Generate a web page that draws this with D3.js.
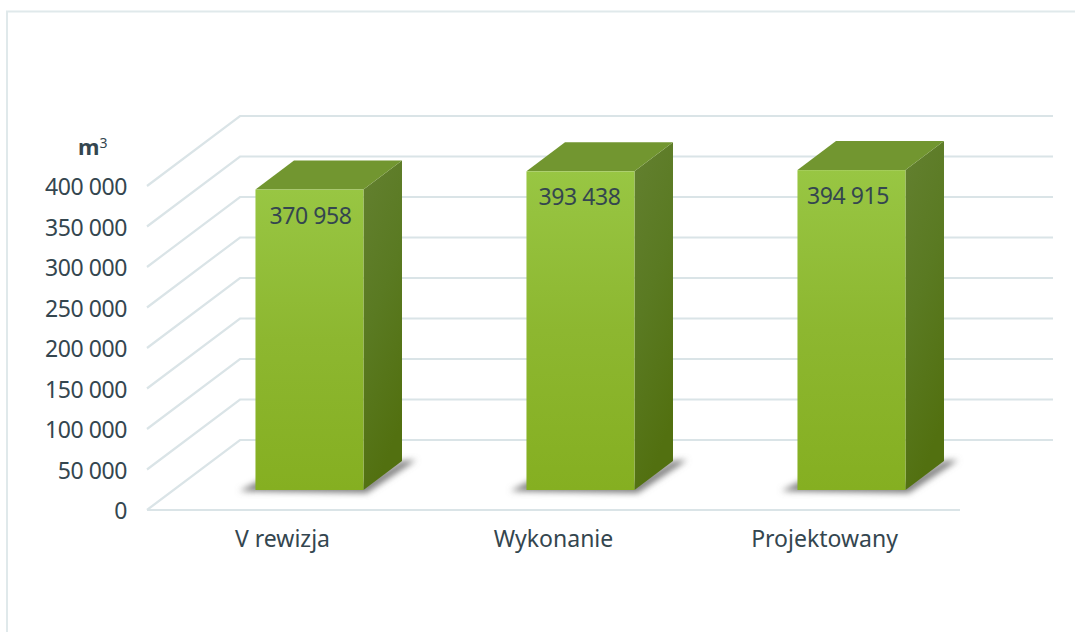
<!DOCTYPE html>
<html>
<head>
<meta charset="utf-8">
<script src="https://cdnjs.cloudflare.com/ajax/libs/d3/7.8.5/d3.min.js"></script>
<style>
  html, body { margin: 0; padding: 0; background: #fff; }
  text { font-family: "Noto Sans", sans-serif; fill: #34464f; }
</style>
</head>
<body>
<div id="chart"></div>
<script>
var categories = ["V rewizja", "Wykonanie", "Projektowany"];
var values = [370958, 393438, 394915];
var valueLabels = ["370 958", "393 438", "394 915"];
var tickValues = [0, 50000, 100000, 150000, 200000, 250000, 300000, 350000, 400000];
var tickLabels = ["0", "50 000", "100 000", "150 000", "200 000", "250 000", "300 000", "350 000", "400 000"];

var width = 1075, height = 632;

// Floor of the 3D box: front edge and how far the back wall is shifted
var front = {left: 147, right: 960, bottom: 510, top: 186};
var depth = {x: 93, y: -70};

// Bars stand part way into the floor
var barNear = 20 / 70, barFar = 49 / 70;

var svg = d3.select("#chart").append("svg")
  .attr("width", width)
  .attr("height", height)
  .style("display", "block");

var x = d3.scaleBand()
  .domain(categories)
  .range([front.left, front.right])
  .paddingInner(0.6)
  .paddingOuter(0.3);

var y = d3.scaleLinear()
  .domain([0, 400000])
  .range([front.bottom, front.top]);

var defs = svg.append("defs");

function gradient(id, stops, x2, y2) {
  var g = defs.append("linearGradient")
    .attr("id", id)
    .attr("x1", 0).attr("y1", 0)
    .attr("x2", x2).attr("y2", y2);
  stops.forEach(function(s, i) {
    g.append("stop").attr("offset", i / (stops.length - 1)).attr("stop-color", s);
  });
}
gradient("frontFill", ["#98c643", "#8db730", "#85af21"], 0, 1);
gradient("sideFill", ["#638030", "#5a7a22", "#527010"], 0.3, 1);

defs.append("filter")
    .attr("id", "blur")
    .attr("x", "-20%").attr("y", "-20%")
    .attr("width", "140%").attr("height", "140%")
  .append("feGaussianBlur")
    .attr("stdDeviation", 3);

// Frame round the chart
svg.append("path")
  .attr("d", "M7," + height + "V11.5H" + width)
  .attr("fill", "none")
  .attr("stroke", "#e0e9eb")
  .attr("stroke-width", 2);

// Gridlines: front floor line, slanted wall edge, back wall line
var grid = svg.append("g")
  .attr("fill", "none")
  .attr("stroke", "#dae4e7")
  .attr("stroke-width", 2.2);

grid.selectAll("path")
  .data(tickValues)
  .enter().append("path")
  .attr("d", function(d) {
    var p = d3.path();
    p.moveTo(front.left, y(d));
    p.lineTo(front.left + depth.x, y(d) + depth.y);
    p.lineTo(front.right + depth.x, y(d) + depth.y);
    return p.toString();
  });

grid.append("line")
  .attr("x1", front.left).attr("y1", y(0))
  .attr("x2", front.right).attr("y2", y(0));

// Y axis labels
svg.append("g").selectAll("text")
  .data(tickValues)
  .enter().append("text")
  .attr("x", 127)
  .attr("y", function(d) { return y(d) + 1; })
  .attr("dy", "0.36em")
  .attr("text-anchor", "end")
  .style("font-size", "23px")
  .style("letter-spacing", "-0.4px")
  .text(function(d, i) { return tickLabels[i]; });

// Unit label
var unit = svg.append("text")
  .attr("x", 78)
  .attr("y", 155)
  .style("font-size", "22px")
  .style("font-weight", "bold");
unit.append("tspan").text("m");
unit.append("tspan").attr("dy", -7).attr("dx", 0).style("font-size", "14px").style("font-weight", "normal").text("3");

// Category labels
svg.append("g").selectAll("text")
  .data(categories)
  .enter().append("text")
  .attr("x", function(d) { return x(d) + x.bandwidth() / 2; })
  .attr("y", 547)
  .attr("text-anchor", "middle")
  .style("font-size", "23px")
  .text(function(d) { return d; });

// Bars
var bars = svg.append("g").selectAll("g")
  .data(values)
  .enter().append("g");

function poly(pts) { return d3.line()(pts) + "Z"; }

function corners(d, i) {
  var x0 = x(categories[i]) + barNear * depth.x + 0.6,
      x1 = x0 + x.bandwidth() - 0.4,
      base = y(0) + barNear * depth.y,
      top = base - (y(0) - y(d)),
      dx = (barFar - barNear) * depth.x,
      dy = (barFar - barNear) * depth.y;
  return {x0: x0, x1: x1, base: base, top: top, dx: dx, dy: dy};
}

// Shadow lying on the floor
bars.append("path")
  .attr("fill", "#7c7c7c")
  .attr("filter", "url(#blur)")
  .attr("d", function(d, i) {
    var c = corners(d, i);
    return poly([[c.x0 - 16, c.base + 1], [c.x0 + 4, c.base - 9], [c.x1, c.base - 6], [c.x1 + c.dx, c.base + c.dy],
                 [c.x1 + c.dx + 14, c.base + c.dy - 1], [c.x1 + 3, c.base + 3]]);
  });

bars.append("path")
  .attr("fill", "url(#sideFill)")
  .attr("d", function(d, i) {
    var c = corners(d, i);
    return poly([[c.x1, c.top], [c.x1 + c.dx, c.top + c.dy], [c.x1 + c.dx, c.base + c.dy], [c.x1, c.base]]);
  });

bars.append("path")
  .attr("fill", "#729630")
  .attr("d", function(d, i) {
    var c = corners(d, i);
    return poly([[c.x0, c.top], [c.x0 + c.dx, c.top + c.dy], [c.x1 + c.dx, c.top + c.dy], [c.x1, c.top]]);
  });

bars.append("rect")
  .attr("fill", "url(#frontFill)")
  .attr("x", function(d, i) { return corners(d, i).x0; })
  .attr("y", function(d, i) { return corners(d, i).top; })
  .attr("width", function(d, i) { var c = corners(d, i); return c.x1 - c.x0; })
  .attr("height", function(d, i) { var c = corners(d, i); return c.base - c.top; });

// Value labels sit at the top of each bar front, nudged by hand
var labelNudge = [1, -1, -3.5];
bars.append("text")
  .attr("x", function(d, i) { var c = corners(d, i); return (c.x0 + c.x1) / 2 + labelNudge[i]; })
  .attr("y", function(d, i) { return corners(d, i).top + 34; })
  .attr("text-anchor", "middle")
  .style("font-size", "23px")
  .style("letter-spacing", "-0.4px")
  .text(function(d, i) { return valueLabels[i]; });
</script>
</body>
</html>
